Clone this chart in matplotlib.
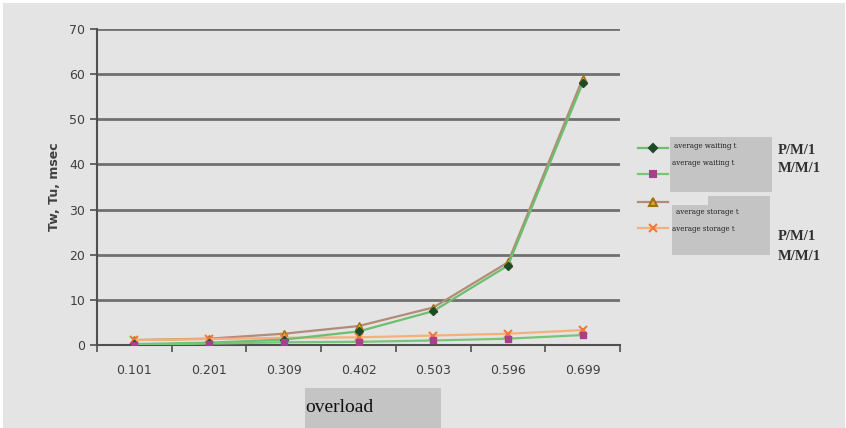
import matplotlib.pyplot as plt
from matplotlib.patches import Rectangle
from matplotlib.lines import Line2D

# dane
overload = ['0.101', '0.201', '0.309', '0.402', '0.503', '0.596', '0.699']
wait_pm1 = [0.2, 0.5, 1.2, 3.0, 7.5, 17.6, 58.0]
wait_mm1 = [0.1, 0.3, 0.6, 0.7, 1.0, 1.4, 2.2]
store_pm1 = [1.1, 1.4, 2.5, 4.2, 8.3, 18.3, 59.0]
store_mm1 = [1.1, 1.3, 1.6, 1.7, 2.1, 2.5, 3.3]

bg = '#e4e4e4'
fig = plt.figure(figsize=(8.46, 4.28), dpi=100, facecolor='white')
fig.patches.append(Rectangle((3 / 846, 0), 842 / 846, 425 / 428, transform=fig.transFigure,
                             facecolor=bg, edgecolor='none', zorder=-10))
ax = fig.add_axes([97 / 846, 83 / 428, 523 / 846, 316 / 428])
ax.set_facecolor(bg)

x = range(len(overload))
ax.plot(x, store_pm1, color='#b48a78', lw=1.6, marker='^', ms=6, mfc='#e0a820', mec='#a07010', zorder=3)
ax.plot(x, store_mm1, color='#f4b07a', lw=1.6, marker='x', ms=6, mec='#f07838', mew=1.5, zorder=3)
ax.plot(x, wait_pm1, color='#6cbf6c', lw=1.6, marker='D', ms=4.5, mfc='#1e4a28', mec='#1e4a28', zorder=4)
ax.plot(x, wait_mm1, color='#78c478', lw=1.6, marker='s', ms=4.5, mfc='#a8408c', mec='#a8408c', zorder=4)

ax.set_xlim(-0.5, 6.5)
ax.set_ylim(0, 70)
ax.set_yticks(range(0, 71, 10))
ax.set_xticks(list(x))
ax.set_xticklabels(overload)
ax.set_xticks([i + 0.5 for i in range(-1, 7)], minor=True)
ax.tick_params(axis='x', which='major', length=0, pad=14, labelsize=9, labelcolor='#404040')
ax.tick_params(axis='x', which='minor', length=5, width=1.2, color='#505050', direction='out')
ax.tick_params(axis='y', length=5, width=1.2, color='#505050', labelsize=9, labelcolor='#404040')
ax.grid(axis='y', color='#707070', lw=2)
ax.set_axisbelow(True)
for s in ['top', 'right']:
    ax.spines[s].set_visible(False)
for s in ['left', 'bottom']:
    ax.spines[s].set_color('#505050')
    ax.spines[s].set_linewidth(1.5)
ax.set_ylabel('Tw, Tu, msec', fontsize=9, fontweight='bold', color='#404040', labelpad=6)

# szare prostokaty pod tekstem
for (x0, y0, w, h) in [(670, 137, 102, 55), (672, 205, 98, 50), (708, 196, 62, 12), (305, 388, 136, 40)]:
    fig.patches.append(Rectangle((x0 / 846, 1 - (y0 + h) / 428), w / 846, h / 428,
                                 transform=fig.transFigure, facecolor='#c4c4c4', edgecolor='none', zorder=0))

# legenda
leg = [
    (148, '#6cbf6c', 'D', '#1e4a28', '#1e4a28', 4.5),
    (174, '#78c478', 's', '#a8408c', '#a8408c', 4.5),
    (202, '#b48a78', '^', '#e0a820', '#a07010', 6),
    (228, '#f4b07a', 'x', '#f07838', '#f07838', 6),
]
for y, lc, m, mfc, mec, ms in leg:
    fig.add_artist(Line2D([638 / 846, 668 / 846], [1 - y / 428] * 2, color=lc, lw=1.6, zorder=2))
    fig.add_artist(Line2D([653 / 846], [1 - y / 428], color=lc, marker=m, ms=ms, mfc=mfc,
                          mec=mec, mew=1.5, ls='none', zorder=3))

small = dict(fontsize=5, family='DejaVu Serif', color='#202020', va='center', zorder=2)
fig.text(674 / 846, 1 - 146 / 428, 'average waiting t', **small)
fig.text(672 / 846, 1 - 163 / 428, 'average waiting t', **small)
fig.text(676 / 846, 1 - 212 / 428, 'average storage t', **small)
fig.text(672 / 846, 1 - 229 / 428, 'average storage t', **small)

big = dict(fontsize=10.5, family='Liberation Serif', fontweight='bold', color='#303030', va='center', zorder=2)
fig.text(778 / 846, 1 - 150 / 428, 'P/M/1', **big)
fig.text(778 / 846, 1 - 168 / 428, 'M/M/1', **big)
fig.text(778 / 846, 1 - 237 / 428, 'P/M/1', **big)
fig.text(778 / 846, 1 - 256 / 428, 'M/M/1', **big)

fig.text(305 / 846, 1 - 407 / 428, 'overload', fontsize=14, family='Liberation Serif',
         color='#101010', va='center', zorder=2)

fig.savefig('out.png', dpi=100, facecolor='white')
